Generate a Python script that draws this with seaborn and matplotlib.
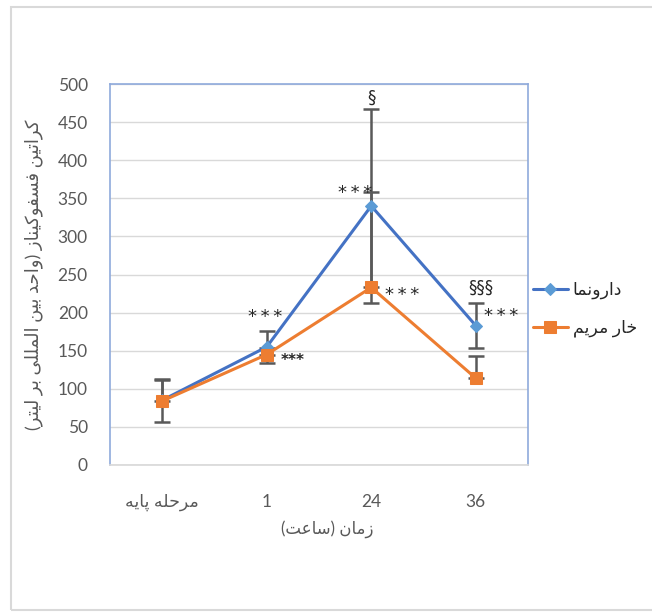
import numpy as np
import pandas as pd
import matplotlib
matplotlib.use("Agg")
import matplotlib.pyplot as plt
import seaborn as sns
from matplotlib.patches import Rectangle


# Chart data
time_points = ["مرحله پایه", "1", "24", "36"]
placebo = [85, 155, 340, 183]
placebo_err = [28, 21, 127, 30]
milk_thistle = [84, 145, 233, 114]
milk_thistle_err_up = [28, 8, 125, 29]
series_names = ["دارونما", "خار مریم"]


# Tiny Arabic/Persian shaper (no arabic_reshaper available offline)
FORMS = {
    "ا": (0xFE8D, 0xFE8E, None, None),
    "ب": (0xFE8F, 0xFE90, 0xFE91, 0xFE92),
    "ت": (0xFE95, 0xFE96, 0xFE97, 0xFE98),
    "ح": (0xFEA1, 0xFEA2, 0xFEA3, 0xFEA4),
    "خ": (0xFEA5, 0xFEA6, 0xFEA7, 0xFEA8),
    "د": (0xFEA9, 0xFEAA, None, None),
    "ر": (0xFEAD, 0xFEAE, None, None),
    "ز": (0xFEAF, 0xFEB0, None, None),
    "س": (0xFEB1, 0xFEB2, 0xFEB3, 0xFEB4),
    "ع": (0xFEC9, 0xFECA, 0xFECB, 0xFECC),
    "ف": (0xFED1, 0xFED2, 0xFED3, 0xFED4),
    "ل": (0xFEDD, 0xFEDE, 0xFEDF, 0xFEE0),
    "م": (0xFEE1, 0xFEE2, 0xFEE3, 0xFEE4),
    "ن": (0xFEE5, 0xFEE6, 0xFEE7, 0xFEE8),
    "ه": (0xFEE9, 0xFEEA, 0xFEEB, 0xFEEC),
    "و": (0xFEED, 0xFEEE, None, None),
    "ی": (0xFBFC, 0xFBFD, 0xFBFE, 0xFBFF),
    "پ": (0xFB56, 0xFB57, 0xFB58, 0xFB59),
    "ک": (0xFB8E, 0xFB8F, 0xFB90, 0xFB91),
}


def shape(word):
    out = []
    for i, c in enumerate(word):
        if c not in FORMS:
            out.append(c)
            continue
        iso, fin, ini, med = FORMS[c]
        prev_j = i > 0 and word[i - 1] in FORMS and FORMS[word[i - 1]][2] is not None
        next_j = i < len(word) - 1 and word[i + 1] in FORMS and ini is not None
        if prev_j and next_j:
            out.append(chr(med))
        elif prev_j:
            out.append(chr(fin))
        elif next_j:
            out.append(chr(ini))
        else:
            out.append(chr(iso))
    return "".join(out)


def rtl(text):
    if not any(c in FORMS for c in text):
        return text
    s = shape(text)[::-1]
    return s.translate(str.maketrans("()", ")("))


sns.set_theme(style="white")
plt.rcParams["font.family"] = ["Lato", "DejaVu Sans"]

x = np.arange(len(time_points))
df = pd.DataFrame({
    "x": np.concatenate([x, x]),
    "value": placebo + milk_thistle,
    "group": [series_names[0]] * 4 + [series_names[1]] * 4,
})

fig = plt.figure(figsize=(6.52, 6.12), dpi=100)
ax = fig.add_axes([0.1687, 0.2402, 0.6411, 0.6225])

blue_line = "#4472C4"
blue_mark = "#5B9BD5"
orange = "#ED7D31"
grey = "#595959"

# error bars below lines
ax.errorbar(x, placebo, yerr=placebo_err, fmt="none", ecolor=grey,
            elinewidth=1.8, capsize=5.5, capthick=1.8, zorder=2)
ax.errorbar(x, milk_thistle, yerr=[np.zeros(4), milk_thistle_err_up], fmt="none",
            ecolor=grey, elinewidth=1.8, capsize=5.5, capthick=1.8, zorder=2)

sns.lineplot(data=df[df["group"] == series_names[0]], x="x", y="value", ax=ax,
             color=blue_line, linewidth=2.2, marker="D", markersize=6.5,
             markerfacecolor=blue_mark, markeredgecolor=blue_mark, zorder=3,
             label=rtl(series_names[0]))
sns.lineplot(data=df[df["group"] == series_names[1]], x="x", y="value", ax=ax,
             color=orange, linewidth=2.2, marker="s", markersize=9,
             markerfacecolor=orange, markeredgecolor=orange, zorder=4,
             label=rtl(series_names[1]))

ax.set_xlim(-0.5, 3.5)
ax.set_ylim(0, 500)
ax.set_yticks(range(0, 501, 50))
ax.set_xticks(x)
ax.set_xticklabels([rtl(t) for t in time_points])
ax.tick_params(axis="both", length=0, labelsize=12.5, colors=grey)
ax.tick_params(axis="y", pad=16)
ax.tick_params(axis="x", pad=21)
ax.grid(axis="y", color="#D9D9D9", linewidth=1)
ax.set_axisbelow(True)
for side in ["left", "top", "right"]:
    ax.spines[side].set_color("#8FAADC")
    ax.spines[side].set_linewidth(1.2)
ax.spines["bottom"].set_color("#D9D9D9")

ax.set_xlabel(rtl("زمان (ساعت)"), fontsize=12, color=grey)
ax.xaxis.set_label_coords(0.52, -0.145)
ax.set_ylabel(rtl("کراتین فسفوکیناز (واحد بین المللی بر لیتر)"),
              fontsize=13, color=grey)
ax.yaxis.set_label_coords(-0.16, 0.5)

# significance marks (baseline positions)
stars = "*\u2009*\u2009*"
marks = [
    (0.985, 188, stars, 13, "normal"),
    (1.25, 131, "***", 11, "bold"),
    (1.85, 351, stars, 13, "normal"),
    (2.0, 475, "§", 12, "normal"),
    (2.30, 217, stars, 13, "normal"),
    (3.05, 226, "§§§", 12, "normal"),
    (3.24, 189, stars, 13, "normal"),
]
for mx, my, txt, fs, fw in marks:
    ax.text(mx, my, txt, ha="center", va="baseline", fontsize=fs,
            fontweight=fw, color="#262626", family="DejaVu Sans", zorder=5)

leg = ax.legend(loc="center left", bbox_to_anchor=(0.995, 0.408), frameon=False,
                fontsize=12.5, handlelength=2.0, handletextpad=0.3,
                labelspacing=1.2, borderaxespad=0)
for t in leg.get_texts():
    t.set_color("#262626")

# outer chart border
fig.patches.append(Rectangle((11 / 652, 2 / 612), 1.2, 603 / 612, transform=fig.transFigure,
                             fill=False, edgecolor="#D9D9D9", linewidth=1.5))

fig.savefig("out.png", dpi=100)
